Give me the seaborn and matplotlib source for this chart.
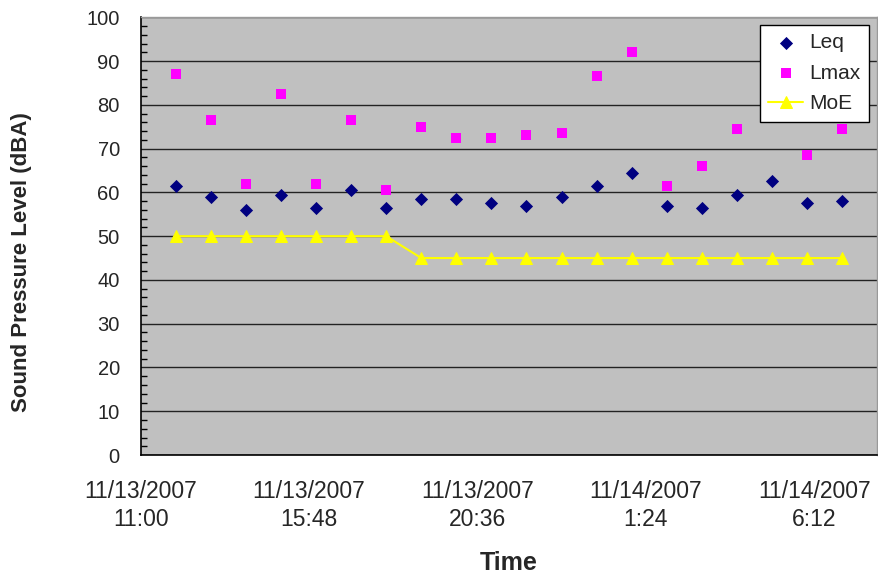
import pandas as pd
import matplotlib
matplotlib.use("Agg")
import matplotlib.pyplot as plt
import matplotlib.dates as mdates
from matplotlib.ticker import FuncFormatter, MultipleLocator
import seaborn as sns

# hourly readings, 11/13/2007 12:00 through 11/14/2007 7:00
times = ["2007-11-13 12:00", "2007-11-13 13:00", "2007-11-13 14:00", "2007-11-13 15:00",
         "2007-11-13 16:00", "2007-11-13 17:00", "2007-11-13 18:00", "2007-11-13 19:00",
         "2007-11-13 20:00", "2007-11-13 21:00", "2007-11-13 22:00", "2007-11-13 23:00",
         "2007-11-14 00:00", "2007-11-14 01:00", "2007-11-14 02:00", "2007-11-14 03:00",
         "2007-11-14 04:00", "2007-11-14 05:00", "2007-11-14 06:00", "2007-11-14 07:00"]
leq = [61.5, 59, 56, 59.5, 56.5, 60.5, 56.5, 58.5, 58.5, 57.5,
       57, 59, 61.5, 64.5, 57, 56.5, 59.5, 62.5, 57.5, 58]
# the 05:00 Lmax point sits behind the legend in the original
lmax = [87, 76.5, 62, 82.5, 62, 76.5, 60.5, 75, 72.5, 72.5,
        73, 73.5, 86.5, 92, 61.5, 66, 74.5, 85, 68.5, 74.5]
moe = [50, 50, 50, 50, 50, 50, 50, 45, 45, 45,
       45, 45, 45, 45, 45, 45, 45, 45, 45, 45]

df = pd.DataFrame({"Time": pd.to_datetime(times), "Leq": leq, "Lmax": lmax, "MoE": moe})

sns.set_style("white")
plt.rcParams["font.family"] = ["Liberation Sans", "DejaVu Sans"]

fig = plt.figure(figsize=(8.79, 5.76), dpi=100)
ax = fig.add_axes([0.160, 0.210, 0.838, 0.760])
ax.set_facecolor("#C0C0C0")

sns.scatterplot(data=df, x="Time", y="Leq", ax=ax, marker="D", s=45, color="#000080",
                edgecolor="#000080", linewidth=0, label="Leq", zorder=3)
sns.scatterplot(data=df, x="Time", y="Lmax", ax=ax, marker="s", s=55, color="#FF00FF",
                edgecolor="#FF00FF", linewidth=0, label="Lmax", zorder=3)
sns.lineplot(data=df, x="Time", y="MoE", ax=ax, marker="^", markersize=8, color="#FFFF00",
             markeredgecolor="#FFFF00", linewidth=1.5, label="MoE", zorder=3)

start = pd.Timestamp("2007-11-13 11:00")
ax.set_xlim(start, pd.Timestamp("2007-11-14 08:00"))
ax.set_ylim(0, 100)
ticks = [start + pd.Timedelta(minutes=288 * k) for k in range(5)]
ax.set_xticks(ticks)

def fmt(x, pos):
    d = mdates.num2date(x)
    return f"{d.month}/{d.day}/{d.year}\n{d.hour}:{d.minute:02d}"

ax.xaxis.set_major_formatter(FuncFormatter(fmt))
ax.yaxis.set_major_locator(MultipleLocator(10))
ax.yaxis.set_minor_locator(MultipleLocator(2))
ax.tick_params(axis="both", which="major", direction="out", length=6, width=1,
               color="black")
ax.tick_params(axis="x", labelsize=16.5, pad=12)
ax.tick_params(axis="y", labelsize=14.5, pad=9)
ax.tick_params(axis="y", which="minor", direction="in", length=4, width=1, color="black", left=True)
for lbl in ax.get_xticklabels():
    lbl.set_linespacing(1.3)
ax.grid(axis="y", which="major", color="#222222", linewidth=1)
ax.set_axisbelow(True)

for side in ["top", "right"]:
    ax.spines[side].set_color("#999999")
    ax.spines[side].set_linewidth(1)
for side in ["left", "bottom"]:
    ax.spines[side].set_color("black")
    ax.spines[side].set_linewidth(1.2)

ax.set_xlabel("Time", fontsize=18, fontweight="bold", labelpad=14)
ax.set_ylabel("Sound Pressure Level (dBA)", fontsize=16, fontweight="bold")
ax.yaxis.set_label_coords(-0.147, 0.44)

leg = ax.legend(loc="upper right", bbox_to_anchor=(0.989, 0.982), fontsize=15, frameon=True,
                fancybox=False, edgecolor="black", framealpha=1, borderpad=0.4,
                handlelength=1.7, handletextpad=0.3, labelspacing=0.55, borderaxespad=0)
leg.get_frame().set_linewidth(1)
leg.set_zorder(5)

fig.savefig("out.png", dpi=100)
